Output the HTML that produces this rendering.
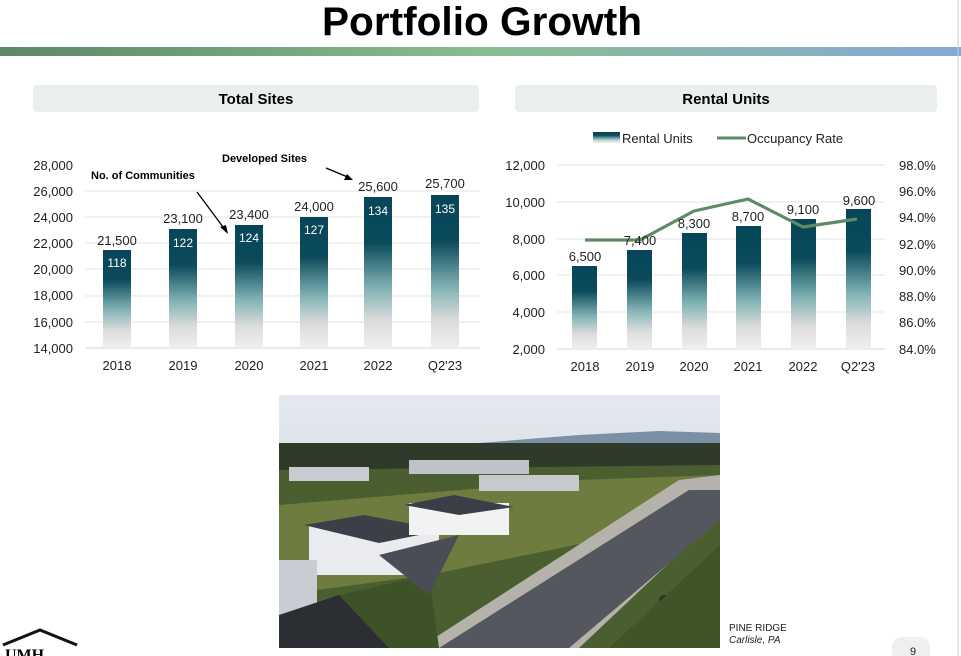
<!DOCTYPE html>
<html><head><meta charset="utf-8"><style>
html,body{margin:0;padding:0;background:#fff;}
body{width:961px;height:656px;position:relative;overflow:hidden;font-family:"Liberation Sans",sans-serif;}
</style></head><body>
<svg width="961" height="656" viewBox="0 0 961 656" xmlns="http://www.w3.org/2000/svg" style="position:absolute;left:0;top:0" font-family="Liberation Sans, sans-serif">
<defs>
<linearGradient id="hb" x1="0" x2="1" y1="0" y2="0">
<stop offset="0" stop-color="#5e8766"/><stop offset="0.5" stop-color="#88bd8f"/><stop offset="1" stop-color="#86a9d6"/></linearGradient>
<linearGradient id="bar" x1="0" x2="0" y1="0" y2="1">
<stop offset="0" stop-color="#07465a"/><stop offset="0.3" stop-color="#0a4a5a"/><stop offset="0.6" stop-color="#7fb1b3"/><stop offset="0.82" stop-color="#dcdcdc"/><stop offset="1" stop-color="#efefef"/></linearGradient>
<linearGradient id="sky" x1="0" x2="0" y1="0" y2="1">
<stop offset="0" stop-color="#e4e9ee"/><stop offset="1" stop-color="#c3cfda"/></linearGradient>
</defs>
<text x="482" y="35" text-anchor="middle" font-size="40" font-weight="bold" fill="#000" textLength="320" lengthAdjust="spacingAndGlyphs">Portfolio Growth</text>
<rect x="0" y="47" width="961" height="9" fill="url(#hb)"/>
<rect x="33" y="85" width="446" height="27" rx="4" fill="#ebefec"/>
<text x="256" y="104" text-anchor="middle" font-size="15" font-weight="bold">Total Sites</text>
<rect x="515" y="85" width="422" height="27" rx="4" fill="#ebefec"/>
<text x="726" y="104" text-anchor="middle" font-size="15" font-weight="bold">Rental Units</text>

<!-- left chart -->
<g stroke="#e3e3e3" stroke-width="1">
<line x1="85" x2="480" y1="191" y2="191"/><line x1="85" x2="480" y1="217" y2="217"/><line x1="85" x2="480" y1="243" y2="243"/><line x1="85" x2="480" y1="269" y2="269"/><line x1="85" x2="480" y1="296" y2="296"/><line x1="85" x2="480" y1="322" y2="322"/>
</g>
<line x1="85" x2="480" y1="348" y2="348" stroke="#d6d6d6"/>
<g font-size="13" fill="#222" text-anchor="end">
<text x="73" y="170">28,000</text><text x="73" y="196">26,000</text><text x="73" y="222">24,000</text><text x="73" y="248">22,000</text><text x="73" y="274">20,000</text><text x="73" y="300">18,000</text><text x="73" y="327">16,000</text><text x="73" y="353">14,000</text>
</g>
<g fill="url(#bar)">
<rect x="103" y="250" width="28" height="98"/><rect x="169" y="229" width="28" height="119"/><rect x="235" y="225" width="28" height="123"/><rect x="300" y="217" width="28" height="131"/><rect x="364" y="197" width="28" height="151"/><rect x="431" y="195" width="28" height="153"/>
</g>
<g font-size="13" fill="#222" text-anchor="middle">
<text x="117" y="245">21,500</text><text x="183" y="223">23,100</text><text x="249" y="219">23,400</text><text x="314" y="211">24,000</text><text x="378" y="191">25,600</text><text x="445" y="188">25,700</text>
<text x="117" y="370">2018</text><text x="183" y="370">2019</text><text x="249" y="370">2020</text><text x="314" y="370">2021</text><text x="378" y="370">2022</text><text x="445" y="370">Q2'23</text>
</g>
<g font-size="12" fill="#fff" text-anchor="middle">
<text x="117" y="267">118</text><text x="183" y="247">122</text><text x="249" y="242">124</text><text x="314" y="234">127</text><text x="378" y="215">134</text><text x="445" y="213">135</text>
</g>
<text x="91" y="179" font-size="11" font-weight="bold">No. of Communities</text>
<text x="222" y="162" font-size="11" font-weight="bold">Developed Sites</text>
<g stroke="#000" stroke-width="1.3">
<line x1="197" y1="192" x2="226" y2="231"/><line x1="326" y1="168" x2="350" y2="178"/>
</g>
<polygon points="228,234 220,227 226,225" fill="#000"/>
<polygon points="353,180 344,180 347,174" fill="#000"/>

<!-- right chart -->
<rect x="593" y="132" width="27" height="11" fill="url(#bar)"/>
<text x="622" y="143" font-size="13" fill="#222">Rental Units</text>
<line x1="717" x2="746" y1="138" y2="138" stroke="#5f8a66" stroke-width="3"/>
<text x="747" y="143" font-size="13" fill="#222">Occupancy Rate</text>
<g stroke="#e3e3e3">
<line x1="557" x2="885" y1="165" y2="165"/><line x1="557" x2="885" y1="202" y2="202"/><line x1="557" x2="885" y1="239" y2="239"/><line x1="557" x2="885" y1="275" y2="275"/><line x1="557" x2="885" y1="312" y2="312"/>
</g>
<line x1="557" x2="885" y1="349" y2="349" stroke="#d6d6d6"/>
<g font-size="13" fill="#222" text-anchor="end">
<text x="545" y="170">12,000</text><text x="545" y="207">10,000</text><text x="545" y="244">8,000</text><text x="545" y="280">6,000</text><text x="545" y="317">4,000</text><text x="545" y="354">2,000</text>
</g>
<g font-size="13" fill="#222">
<text x="899" y="170">98.0%</text><text x="899" y="196">96.0%</text><text x="899" y="222">94.0%</text><text x="899" y="249">92.0%</text><text x="899" y="275">90.0%</text><text x="899" y="301">88.0%</text><text x="899" y="327">86.0%</text><text x="899" y="354">84.0%</text>
</g>
<g fill="url(#bar)">
<rect x="572" y="266" width="25" height="83"/><rect x="627" y="250" width="25" height="99"/><rect x="682" y="233" width="25" height="116"/><rect x="736" y="226" width="25" height="123"/><rect x="791" y="219" width="25" height="130"/><rect x="846" y="209" width="25" height="140"/>
</g>
<polyline points="585,240 640,240 694,211 748,199 803,227 857,219" fill="none" stroke="#5f8a66" stroke-width="3.2" stroke-linejoin="round"/>
<g font-size="13" fill="#222" text-anchor="middle">
<text x="585" y="261">6,500</text><text x="640" y="245">7,400</text><text x="694" y="228">8,300</text><text x="748" y="221">8,700</text><text x="803" y="214">9,100</text><text x="859" y="205">9,600</text>
<text x="585" y="371">2018</text><text x="640" y="371">2019</text><text x="694" y="371">2020</text><text x="748" y="371">2021</text><text x="803" y="371">2022</text><text x="858" y="371">Q2'23</text>
</g>

<!-- photo -->
<svg x="279" y="395" width="441" height="253" viewBox="0 0 441 253">
<rect width="441" height="253" fill="url(#sky)"/>
<polygon points="200,48 300,40 380,36 441,38 441,52 200,52" fill="#7b8fa5"/>
<rect y="48" width="441" height="30" fill="#2e3b2a"/>
<polygon points="0,75 441,70 441,253 0,253" fill="#4a5e30"/>
<polygon points="0,110 300,85 441,80 441,120 150,180 0,200" fill="#6e7c40"/>
<rect x="10" y="72" width="80" height="14" fill="#c8cbd1"/>
<rect x="130" y="65" width="120" height="14" fill="#bfc2c8"/>
<rect x="200" y="80" width="100" height="16" fill="#c7c9cd"/>
<rect x="30" y="130" width="130" height="50" fill="#e9ebee"/>
<polygon points="25,130 85,120 165,135 100,148" fill="#3b3f48"/>
<rect x="130" y="108" width="100" height="32" fill="#f2f2f2"/>
<polygon points="125,110 175,100 235,112 180,120" fill="#3a3e47"/>
<polygon points="140,253 300,253 441,120 441,80 400,85" fill="#b5b2ab"/>
<polygon points="160,253 290,253 441,125 441,95 410,95" fill="#55575e"/>
<rect x="0" y="165" width="38" height="55" fill="#c9ccd2"/>
<polygon points="0,220 60,200 110,253 0,253" fill="#2b2e33"/>
<polygon points="60,200 150,180 160,253 110,253" fill="#3d5226"/>
<polygon points="100,160 180,140 150,200" fill="#4a4d55"/>
<rect x="380" y="200" width="55" height="22" rx="6" fill="#26292e"/>
<polygon points="330,253 441,150 441,253" fill="#405428"/>
</svg>
<text x="729" y="631" font-size="10" fill="#222">PINE RIDGE</text>
<text x="729" y="643" font-size="10" font-style="italic" fill="#222">Carlisle, PA</text>
<rect x="892" y="637" width="38" height="30" rx="10" fill="#efefef"/>
<text x="913" y="655" font-size="11" text-anchor="middle" fill="#222">9</text>
<polyline points="3,645 40,630 77,645" fill="none" stroke="#111" stroke-width="3"/>
<text x="5" y="660" font-size="16" font-weight="bold" font-family="Liberation Serif, serif">UMH</text>
<line x1="958" y1="0" x2="958" y2="656" stroke="#ccc"/>
</svg>
</body></html>
